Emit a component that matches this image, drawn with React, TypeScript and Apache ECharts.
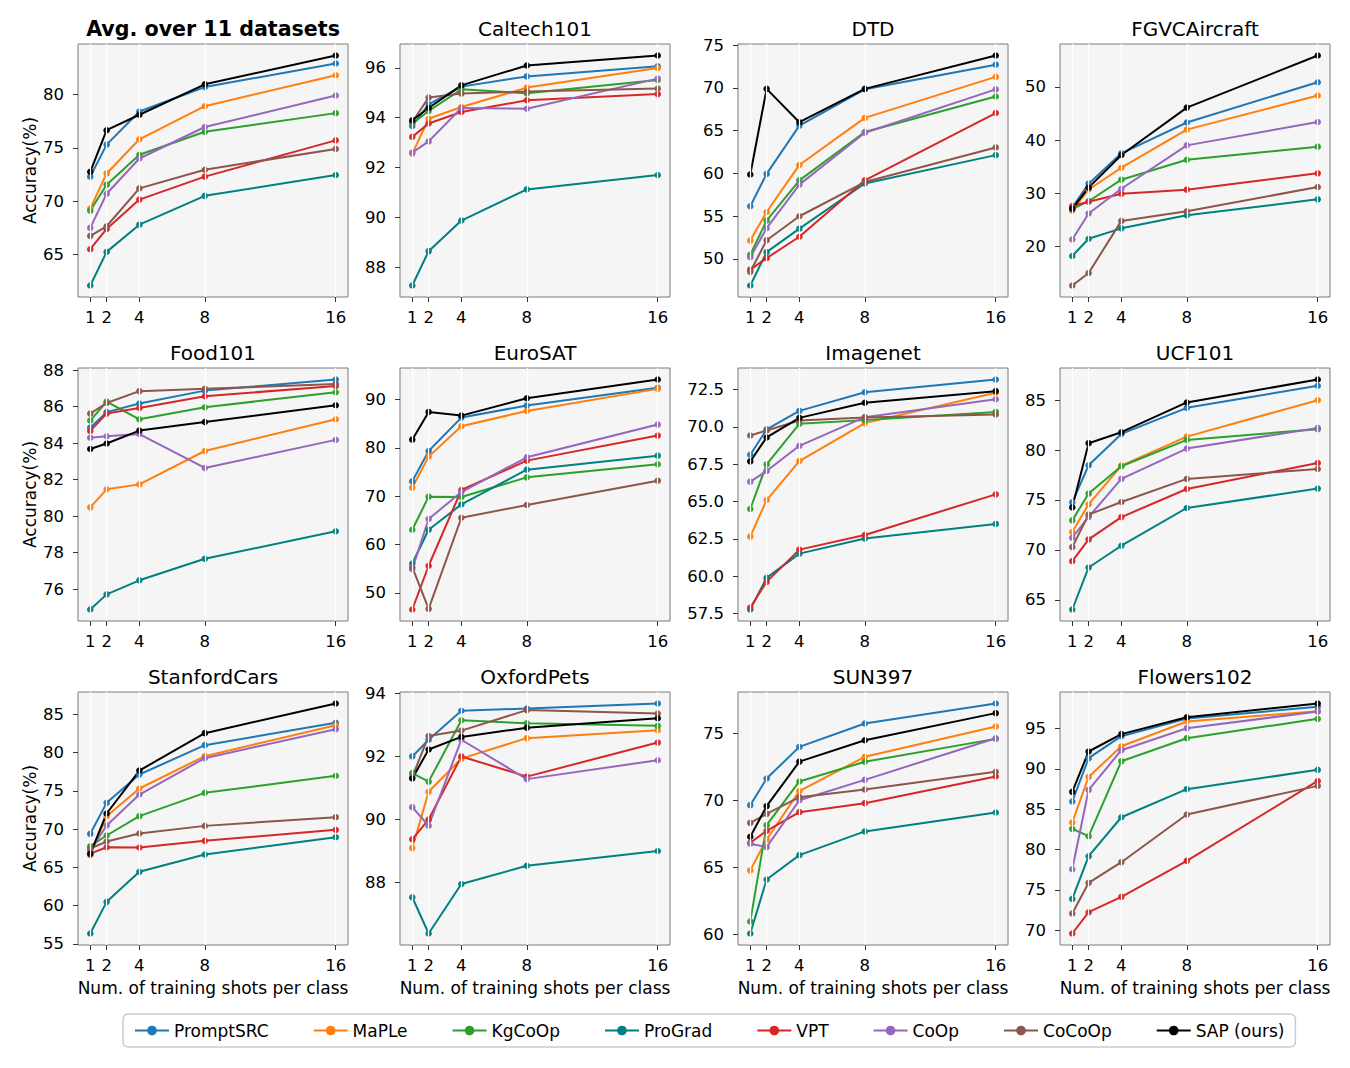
import React, { useEffect, useRef } from "react";
import * as echarts from "echarts";

const shots = [1, 2, 4, 8, 16];
const methods = ["PromptSRC", "MaPLe", "KgCoOp", "ProGrad", "VPT", "CoOp", "CoCoOp", "SAP (ours)"];
const colors = ["#1f77b4", "#ff7f0e", "#2ca02c", "#008080", "#d62728", "#9467bd", "#8c564b", "#000000"];
const titles = [
  "Avg. over 11 datasets", "Caltech101", "DTD", "FGVCAircraft",
  "Food101", "EuroSAT", "Imagenet", "UCF101",
  "StanfordCars", "OxfordPets", "SUN397", "Flowers102",
];

// rows: PromptSRC, MaPLe, KgCoOp, ProGrad, VPT, CoOp, CoCoOp, SAP
const avgData = [
  [72.3, 75.3, 78.4, 80.7, 82.9],
  [69.3, 72.6, 75.8, 78.9, 81.8],
  [69.1, 71.55, 74.35, 76.5, 78.25],
  [62.1, 65.25, 67.8, 70.5, 72.45],
  [65.5, 67.4, 70.15, 72.3, 75.7],
  [67.5, 70.7, 74.0, 76.95, 79.9],
  [66.75, 67.65, 71.2, 72.95, 74.9],
  [72.75, 76.65, 78.1, 80.95, 83.65],
];
const caltechData = [
  [93.67, 94.54, 95.25, 95.66, 96.07],
  [92.56, 93.96, 94.43, 95.21, 96.0],
  [93.76, 94.27, 95.14, 94.98, 95.52],
  [87.26, 88.64, 89.87, 91.12, 91.7],
  [93.23, 93.77, 94.23, 94.7, 94.95],
  [92.6, 93.05, 94.39, 94.36, 95.57],
  [93.83, 94.81, 94.97, 95.05, 95.17],
  [93.9, 94.39, 95.3, 96.1, 96.5],
];
const dtdData = [
  [56.17, 59.96, 65.6, 69.85, 72.73],
  [52.15, 55.5, 61.0, 66.5, 71.3],
  [50.5, 54.5, 59.2, 64.85, 69.0],
  [46.9, 50.8, 53.55, 58.83, 62.15],
  [48.75, 50.1, 52.6, 59.2, 67.07],
  [50.2, 53.6, 58.7, 64.77, 69.84],
  [48.5, 52.2, 55.0, 59.0, 63.05],
  [59.88, 69.9, 66.0, 69.9, 73.8],
];
const fgvcData = [
  [27.3, 31.8, 37.5, 43.3, 50.88],
  [26.7, 30.7, 34.8, 41.96, 48.37],
  [27.0, 28.5, 32.55, 36.3, 38.76],
  [18.2, 21.45, 23.4, 25.85, 28.85],
  [27.6, 28.4, 29.9, 30.67, 33.74],
  [21.3, 26.2, 30.85, 39.0, 43.4],
  [12.65, 15.0, 24.8, 26.6, 31.17],
  [27.1, 31.05, 37.2, 46.1, 55.9],
];
const foodData = [
  [84.85, 85.7, 86.17, 86.88, 87.49],
  [80.48, 81.47, 81.74, 83.57, 85.31],
  [85.24, 86.28, 85.31, 85.97, 86.79],
  [74.88, 75.71, 76.48, 77.66, 79.17],
  [84.67, 85.62, 85.93, 86.57, 87.14],
  [84.3, 84.38, 84.5, 82.64, 84.18],
  [85.62, 86.2, 86.85, 86.98, 87.25],
  [83.68, 83.98, 84.69, 85.16, 86.08],
];
const eurosatData = [
  [73.07, 79.36, 86.27, 88.76, 92.42],
  [71.76, 78.19, 84.47, 87.65, 92.21],
  [63.06, 69.9, 69.83, 73.9, 76.6],
  [56.08, 63.06, 68.3, 75.49, 78.39],
  [46.55, 55.6, 71.28, 77.36, 82.54],
  [54.9, 65.27, 70.86, 78.05, 84.82],
  [55.3, 46.68, 65.54, 68.17, 73.21],
  [81.7, 87.44, 86.68, 90.28, 94.15],
];
const imagenetData = [
  [68.13, 69.83, 71.07, 72.32, 73.17],
  [62.65, 65.1, 67.71, 70.25, 72.28],
  [64.5, 67.49, 70.2, 70.45, 71.0],
  [57.77, 59.89, 61.51, 62.52, 63.5],
  [57.9, 59.62, 61.78, 62.76, 65.48],
  [66.33, 67.04, 68.73, 70.65, 71.85],
  [69.42, 69.76, 70.43, 70.63, 70.83],
  [67.69, 69.29, 70.6, 71.61, 72.39],
];
const ucfData = [
  [74.77, 78.48, 81.62, 84.23, 86.44],
  [71.79, 74.57, 78.44, 81.35, 85.0],
  [72.96, 75.64, 78.38, 81.02, 82.09],
  [64.03, 68.24, 70.42, 74.2, 76.14],
  [68.88, 71.05, 73.29, 76.1, 78.71],
  [71.22, 73.3, 77.11, 80.15, 82.22],
  [70.28, 73.53, 74.8, 77.11, 78.11],
  [74.26, 80.69, 81.79, 84.77, 87.07],
];
const carsData = [
  [69.39, 73.44, 77.15, 80.99, 83.91],
  [66.6, 71.7, 75.32, 79.55, 83.6],
  [67.77, 69.17, 71.7, 74.75, 76.98],
  [56.35, 60.49, 64.42, 66.68, 68.95],
  [66.8, 67.64, 67.6, 68.47, 69.91],
  [67.2, 70.48, 74.53, 79.29, 83.08],
  [67.47, 68.38, 69.43, 70.43, 71.57],
  [66.77, 72.05, 77.67, 82.56, 86.44],
];
const petsData = [
  [92.0, 92.53, 93.45, 93.52, 93.68],
  [89.09, 90.88, 91.93, 92.58, 92.83],
  [91.47, 91.2, 93.15, 93.05, 92.97],
  [87.53, 86.38, 87.95, 88.53, 89.0],
  [89.37, 90.0, 92.0, 91.36, 92.44],
  [90.39, 89.8, 92.53, 91.28, 91.88],
  [91.35, 92.65, 92.82, 93.47, 93.36],
  [91.3, 92.22, 92.62, 92.91, 93.21],
];
const sunData = [
  [69.65, 71.64, 74.0, 75.75, 77.24],
  [64.78, 67.09, 70.7, 73.26, 75.52],
  [60.97, 68.16, 71.42, 72.89, 74.6],
  [60.07, 64.1, 65.92, 67.69, 69.1],
  [66.84, 67.74, 69.13, 69.8, 71.79],
  [66.77, 66.52, 70.02, 71.54, 74.65],
  [68.33, 69.0, 70.25, 70.82, 72.14],
  [67.29, 69.58, 72.9, 74.5, 76.52],
];
const flowersData = [
  [85.95, 91.32, 94.05, 96.24, 97.69],
  [83.35, 89.0, 92.8, 95.87, 97.15],
  [82.56, 81.65, 90.95, 93.8, 96.2],
  [73.88, 79.17, 84.0, 87.48, 89.88],
  [69.59, 72.23, 74.13, 78.6, 88.5],
  [77.56, 87.4, 92.31, 95.04, 97.1],
  [72.07, 75.87, 78.43, 84.34, 87.89],
  [87.15, 92.15, 94.3, 96.4, 98.1],
];

const yTicks = [
  [65, 70, 75, 80],
  [88, 90, 92, 94, 96],
  [50, 55, 60, 65, 70, 75],
  [20, 30, 40, 50],
  [76, 78, 80, 82, 84, 86, 88],
  [50, 60, 70, 80, 90],
  [57.5, 60, 62.5, 65, 67.5, 70, 72.5],
  [65, 70, 75, 80, 85],
  [55, 60, 65, 70, 75, 80, 85],
  [88, 90, 92, 94],
  [60, 65, 70, 75],
  [70, 75, 80, 85, 90, 95],
];

const allData = [
  avgData, caltechData, dtdData, fgvcData,
  foodData, eurosatData, imagenetData, ucfData,
  carsData, petsData, sunData, flowersData,
];

const FONT = "DejaVu Sans";
const colLeft = [78, 400, 738, 1060];
const rowTop = [44, 368, 692];
const PW = 270;
const PH = 253;

function buildOption() {
  const grid: any[] = [];
  const xAxis: any[] = [];
  const yAxis: any[] = [];
  const series: any[] = [];
  const graphic: any[] = [];

  allData.forEach((data, i) => {
    const r = Math.floor(i / 4);
    const c = i % 4;
    const left = colLeft[c];
    const top = rowTop[r];
    grid.push({
      left, top, width: PW, height: PH,
      show: true, backgroundColor: "#f5f5f5", borderColor: "#7a7a7a", borderWidth: 1,
      containLabel: false,
    });
    const flat = data.flat();
    const mn = Math.min(...flat);
    const mx = Math.max(...flat);
    const pad = (mx - mn) * 0.05;
    const decimals = yTicks[i].some((v) => !Number.isInteger(v)) ? 1 : 0;
    xAxis.push({
      type: "value", gridIndex: i, min: 0.25, max: 16.75,
      axisLine: { show: false },
      splitLine: { show: false },
      axisTick: { show: true, customValues: shots, length: 5, lineStyle: { color: "#333", width: 1 } },
      axisLabel: { customValues: shots, fontSize: 16.5, color: "#000", margin: 12, fontFamily: FONT },
    });
    yAxis.push({
      type: "value", gridIndex: i, min: mn - pad, max: mx + pad,
      axisLine: { show: false },
      splitLine: { show: false },
      axisTick: { show: true, customValues: yTicks[i], length: 5, lineStyle: { color: "#333", width: 1 } },
      axisLabel: {
        customValues: yTicks[i], fontSize: 16.5, color: "#000", margin: 14, fontFamily: FONT,
        formatter: (v: number) => v.toFixed(decimals),
      },
    });
    series.push({
      type: "line", xAxisIndex: i, yAxisIndex: i, data: [], silent: true, z: 1,
      markLine: {
        silent: true, symbol: ["none", "none"], label: { show: false },
        lineStyle: { color: "#ffffff", width: 1.3, type: "solid" },
        emphasis: { disabled: true },
        data: shots.map((s) => ({ xAxis: s })),
      },
    });
    data.forEach((vals, m) => {
      series.push({
        type: "line", name: methods[m], xAxisIndex: i, yAxisIndex: i,
        data: shots.map((s, k) => [s, vals[k]]),
        symbol: "circle", symbolSize: 6.5, showSymbol: true,
        lineStyle: { width: 2, color: colors[m] },
        itemStyle: { color: colors[m], borderWidth: 0 },
        emphasis: { disabled: true },
        z: 3,
      });
    });
    graphic.push({
      type: "text", x: left + PW / 2, y: top - 15,
      style: {
        text: titles[i], fill: "#000", fontSize: i === 0 ? 20.6 : 20, fontFamily: FONT,
        fontWeight: i === 0 ? "bold" : "normal",
        textAlign: "center", textVerticalAlign: "middle", textBaseline: "middle",
      },
    });
    if (c === 0) {
      graphic.push({
        type: "text", x: 30, y: top + PH / 2, rotation: Math.PI / 2,
        style: {
          text: "Accuracy(%)", fill: "#000", fontSize: 17, fontFamily: FONT,
          textAlign: "center", textVerticalAlign: "middle", textBaseline: "middle",
        },
      });
    }
    if (r === 2) {
      graphic.push({
        type: "text", x: left + PW / 2, y: 988,
        style: {
          text: "Num. of training shots per class", fill: "#000", fontSize: 17, fontFamily: FONT,
          textAlign: "center", textVerticalAlign: "middle", textBaseline: "middle",
        },
      });
    }
  });

  return {
    animation: false,
    backgroundColor: "#ffffff",
    textStyle: { fontFamily: FONT },
    grid, xAxis, yAxis, series, graphic,
    legend: {
      data: methods,
      left: 123, top: 1014,
      orient: "horizontal",
      itemGap: 44, itemWidth: 34, itemHeight: 12,
      padding: [8, 11],
      borderColor: "#cccccc", borderWidth: 1.5, borderRadius: 5,
      backgroundColor: "#ffffff",
      selectedMode: false,
      textStyle: { fontSize: 17, color: "#000", fontFamily: FONT },
    },
  };
}

export default function App() {
  const ref = useRef<HTMLDivElement>(null);
  useEffect(() => {
    document.body.style.margin = "0";
    if (!ref.current) return;
    const chart = echarts.init(ref.current, undefined, { renderer: "svg" });
    chart.setOption(buildOption() as any);
    return () => chart.dispose();
  }, []);
  return <div ref={ref} style={{ width: 1350, height: 1068 }} />;
}
